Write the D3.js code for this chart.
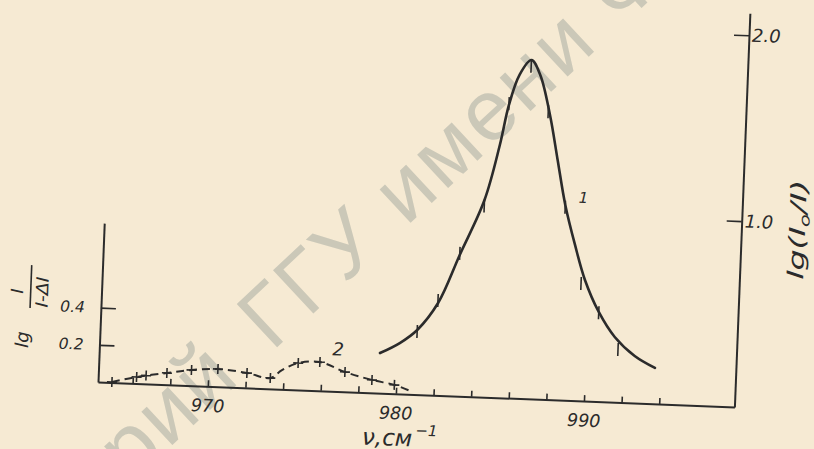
<!DOCTYPE html>
<html><head><meta charset="utf-8">
<script src="https://cdn.jsdelivr.net/npm/d3@7"></script>
<style>body{margin:0;background:#f6ead3;} svg{display:block;}</style>
</head><body><svg id="c" width="814" height="449"></svg>
<script>
// ---- data ----
const xTicks = [966,968,970,972,974,976,978,980,982,984,986,988,990,992,994];
const xLabelTicks = [970,980,990];
const yLeftTicks = [0.2,0.4];
const yRightTicks = [1.0,2.0];

// curve 1 (solid)
const nu1  = [979.07,980.1,981.0,982.05,983.1,984.3,985.0,985.4,985.9,986.5,987.0,987.6,988.1,988.6,989.2,989.8,990.6,991.5,992.6,993.7];
const val1 = [0.215,0.273,0.347,0.496,0.759,1.059,1.358,1.575,1.739,1.821,1.743,1.53,1.29,1.05,0.837,0.651,0.482,0.351,0.253,0.193];
// experimental marks on curve 1
const mark1Nu  = [981.0,982.04,983.1,984.3,985.4,986.5,987.5,988.6,989.6,990.6,991.7];
const mark1Val = [0.341,0.512,0.77,1.03,1.585,1.79,1.55,1.04,0.634,0.48,0.287];

// curve 2 (dashed)
const nu2  = [964.9,966.2,967.8,969.1,970.5,972.05,973.3,973.9,974.75,975.9,977.25,978.7,979.9,980.9];
const val2 = [0.003,0.035,0.063,0.084,0.095,0.08,0.058,0.103,0.144,0.154,0.106,0.069,0.047,0.012];
const mark2Nu  = [964.9,966.2,966.7,967.8,969.1,970.5,972.05,973.3,974.75,975.9,977.25,978.7,979.9];
const mark2Val = [0.003,0.035,0.045,0.063,0.084,0.095,0.08,0.058,0.144,0.154,0.106,0.069,0.047];

// ---- drawing ----
const ink = '#2b2b2b';
const svg = d3.select('#c');
svg.append('rect').attr('width',814).attr('height',449).attr('fill','#f6ead3');

// watermark
const wm = svg.append('g').attr('transform','translate(272,352) rotate(-43)')
  .attr('fill','#cbc8b8').style('font-family','"Liberation Sans", Arial, sans-serif')
  .style('font-size','86px').style('letter-spacing','3px');
wm.append('text').attr('x',0).attr('y',0).text('ГГУ имени Ф. Скорины');
wm.append('text').attr('x',-40).attr('y',0).attr('text-anchor','end').text('Репозиторий');

const g = svg.append('g').attr('transform','translate(98,382) rotate(2.25)');
const x = d3.scaleLinear().domain([964.16, 998]).range([0, 636.9]);
const y = d3.scaleLinear().domain([0, 1]).range([0, -186]);
const yLeft = d3.scaleLinear().domain([0, 159/186]).range([0, -159]);
const yRight = d3.scaleLinear().domain([0, 394/186]).range([0, -394]);

const fontTick = '"DejaVu Sans", sans-serif';

function styleAxis(sel, fs){
  sel.select('.domain').attr('stroke', ink).attr('stroke-width', 2);
  sel.selectAll('.tick line').attr('stroke', ink).attr('stroke-width', 1.6);
  sel.selectAll('.tick text').attr('fill', ink).style('font-family', fontTick)
     .style('font-style','italic').style('font-size', fs+'px');
}

// bottom axis: ticks
const ax = g.append('g').call(d3.axisBottom(x).tickValues(xTicks).tickSize(-6).tickSizeOuter(0).tickFormat(''));
styleAxis(ax, 17);
// bottom axis labels
const axl = g.append('g').call(d3.axisBottom(x).tickValues(xLabelTicks).tickSize(0).tickPadding(13).tickFormat(d3.format('d')));
axl.select('.domain').remove();
styleAxis(axl, 17.5);

// left axis
const al = g.append('g').call(d3.axisLeft(yLeft).tickValues(yLeftTicks).tickSize(-15).tickSizeOuter(0).tickPadding(16).tickFormat(d3.format('.1f')));
styleAxis(al, 15.5);

// right axis
const ar = g.append('g').attr('transform','translate('+x(998)+',0)')
  .call(d3.axisRight(yRight).tickValues(yRightTicks).tickSize(-15).tickSizeOuter(0).tickPadding(3).tickFormat(d3.format('.1f')));
styleAxis(ar, 18);

// curve 1
const d1 = nu1.map((n,i)=>[n,val1[i]]);
const line = d3.line().x(d=>x(d[0])).y(d=>y(d[1])).curve(d3.curveCatmullRom.alpha(0.5));
g.append('path').attr('d', line(d1)).attr('fill','none').attr('stroke', ink).attr('stroke-width', 2.6)
  .attr('stroke-linecap','round');
// marks on curve 1
g.selectAll('.m1').data(mark1Nu.map((n,i)=>[n,mark1Val[i]])).enter().append('line')
  .attr('x1',d=>x(d[0])).attr('x2',d=>x(d[0]))
  .attr('y1',d=>y(d[1])-6).attr('y2',d=>y(d[1])+7)
  .attr('stroke', ink).attr('stroke-width',1.6);

// curve 2
const d2 = nu2.map((n,i)=>[n,val2[i]]);
g.append('path').attr('d', line(d2)).attr('fill','none').attr('stroke', ink).attr('stroke-width', 2)
  .attr('stroke-dasharray','8,5');
g.selectAll('.m2').data(mark2Nu.map((n,i)=>[n,mark2Val[i]])).enter().append('path')
  .attr('d',d=>{const px=x(d[0]), py=y(d[1]); return `M${px-5},${py}H${px+5}M${px},${py-5}V${py+5}`;})
  .attr('stroke', ink).attr('stroke-width',1.6).attr('fill','none');

// curve labels
g.append('text').attr('x',473).attr('y',-198).text('1').attr('fill',ink)
  .style('font-family',fontTick).style('font-style','italic').style('font-size','15px');
g.append('text').attr('x',233).attr('y',-36).text('2').attr('fill',ink)
  .style('font-family',fontTick).style('font-style','italic').style('font-size','18px');

// x title
const xt = g.append('text').attr('x',266).attr('y',52).attr('fill',ink)
  .style('font-family',fontTick).style('font-style','italic').style('font-size','23px');
xt.append('tspan').text('ν,см');
xt.append('tspan').attr('dy',-11).attr('dx',3).style('font-size','15px').text('−1');

// left y title
const lt = g.append('g').attr('transform','translate(-71.3,-31.2) rotate(-90)')
  .attr('fill',ink).style('font-family',fontTick).style('font-style','italic');
lt.append('text').attr('x',0).attr('y',0).style('font-size','18px').text('lg');
lt.append('line').attr('x1',40).attr('x2',83).attr('y1',0.5).attr('y2',0.5).attr('stroke',ink).attr('stroke-width',1.6);
lt.append('text').attr('x',56.5).attr('y',-7).attr('text-anchor','middle').style('font-size','17px').text('I');
lt.append('text').attr('x',41).attr('y',18).style('font-size','17px')
  .attr('textLength',31).attr('lengthAdjust','spacingAndGlyphs').text('I-ΔI');

// right y title
const rt = g.append('g').attr('transform','translate(700.5,-129.6) rotate(-90)')
  .attr('fill',ink).style('font-family',fontTick).style('font-style','italic').style('font-size','22px');
const rtt = rt.append('text').attr('x',0).attr('y',0).attr('textLength',100).attr('lengthAdjust','spacingAndGlyphs');
rtt.append('tspan').text('lg(I');
rtt.append('tspan').attr('dy',4).style('font-size','14px').text('o');
rtt.append('tspan').attr('dy',-4).text('/I)');
</script></body></html>
